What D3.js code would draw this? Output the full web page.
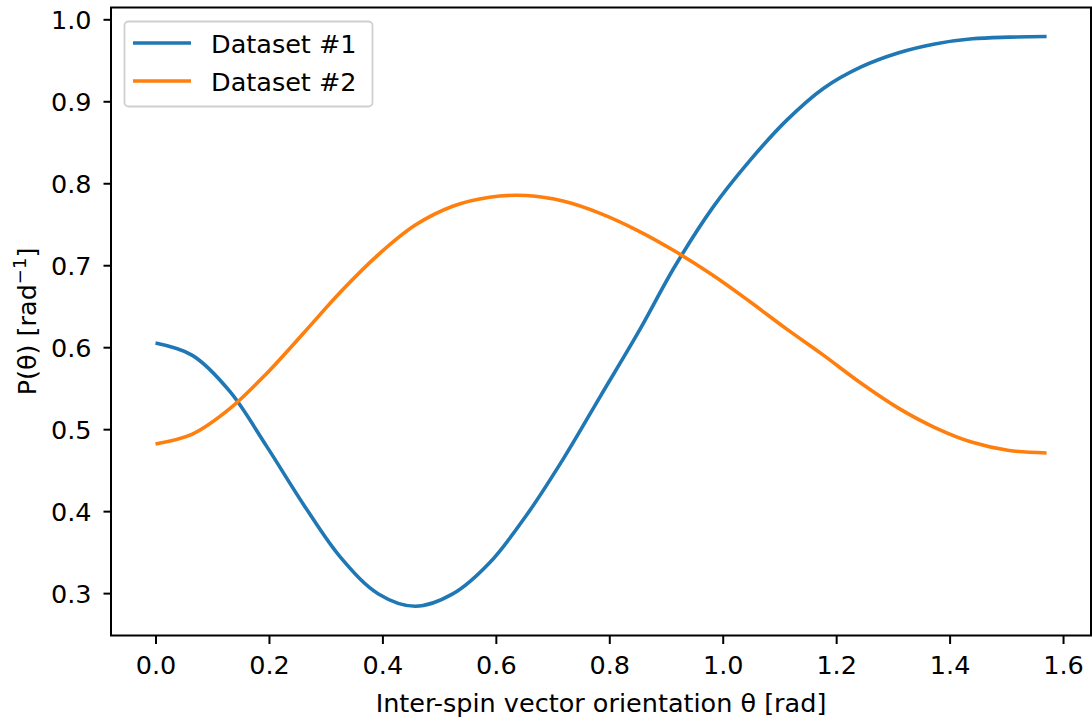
<!DOCTYPE html>
<html>
<head>
<meta charset="utf-8">
<script src="https://cdn.jsdelivr.net/npm/d3@7"></script>
<style>
  html, body { margin: 0; padding: 0; background: #fff; }
  svg { display: block; }
  text { font-family: "DejaVu Sans", sans-serif; fill: #000; }
</style>
</head>
<body>
<svg id="chart" width="1092" height="722"></svg>
<script>
const theta = [0.000, 0.065, 0.131, 0.196, 0.262, 0.327, 0.393, 0.458, 0.524, 0.589, 0.654, 0.720, 0.785, 0.851, 0.916, 0.982, 1.047, 1.113, 1.178, 1.244, 1.309, 1.374, 1.440, 1.505, 1.571];
const dataset1 = [0.605, 0.590, 0.546, 0.479, 0.407, 0.343, 0.299, 0.284, 0.299, 0.337, 0.395, 0.465, 0.541, 0.618, 0.699, 0.770, 0.827, 0.877, 0.916, 0.942, 0.959, 0.970, 0.9762, 0.9782, 0.979];
const dataset2 = [0.482, 0.494, 0.525, 0.568, 0.618, 0.668, 0.713, 0.749, 0.772, 0.783, 0.785, 0.778, 0.763, 0.742, 0.717, 0.688, 0.656, 0.622, 0.590, 0.556, 0.526, 0.502, 0.484, 0.474, 0.471];
const seriesNames = ["Dataset #1", "Dataset #2"];
const seriesColors = ["#1f77b4", "#ff7f0e"];
const xTicks = [0.0, 0.2, 0.4, 0.6, 0.8, 1.0, 1.2, 1.4, 1.6];
const yTicks = [0.3, 0.4, 0.5, 0.6, 0.7, 0.8, 0.9, 1.0];

(function () {
const svg = d3.select("#chart");
const mLeft = 111, mRight = 1091, mTop = 7.5, mBottom = 635.5;
const FS = 25.5;

const x = d3.scaleLinear().domain([-0.0785, 1.6493]).range([mLeft, mRight]);
const y = d3.scaleLinear().domain([0.2483, 1.0144]).range([mBottom, mTop]);

const series = [dataset1, dataset2];
const line = d3.line()
  .x((d, i) => x(theta[i]))
  .y(d => y(d))
  .curve(d3.curveCatmullRom.alpha(0.5));

const plot = svg.append("g");
series.forEach((s, k) => {
  plot.append("path")
    .datum(s)
    .attr("fill", "none")
    .attr("stroke", seriesColors[k])
    .attr("stroke-width", 3.6)
    .attr("stroke-linecap", "butt")
    .attr("stroke-linejoin", "round")
    .attr("d", line);
});

const xAxis = d3.axisBottom(x).tickValues(xTicks).tickFormat(d3.format(".1f")).tickSizeOuter(0).tickSize(8.5);
const yAxis = d3.axisLeft(y).tickValues(yTicks).tickFormat(d3.format(".1f")).tickSizeOuter(0).tickSize(7.5).tickPadding(12);

const gx = svg.append("g").attr("transform", `translate(0,${mBottom})`).call(xAxis);
const gy = svg.append("g").attr("transform", `translate(${mLeft},0)`).call(yAxis);
[gx, gy].forEach(g => {
  g.select(".domain").remove();
  g.selectAll(".tick line").attr("stroke", "#000").attr("stroke-width", 2);
  g.selectAll(".tick text").attr("font-size", FS).attr("font-family", "DejaVu Sans").attr("fill", "#000");
});
gx.selectAll(".tick text").attr("dy", 0).attr("y", 38.5);
gy.selectAll(".tick text").attr("dy", "0.36em");

svg.append("rect")
  .attr("x", mLeft).attr("y", mTop)
  .attr("width", mRight - mLeft).attr("height", mBottom - mTop)
  .attr("fill", "none").attr("stroke", "#000").attr("stroke-width", 2);

svg.append("text")
  .attr("x", (mLeft + mRight) / 2).attr("y", 711.5)
  .attr("text-anchor", "middle").attr("font-size", FS)
  .text("Inter-spin vector orientation θ [rad]");

const yl = svg.append("text")
  .attr("transform", `translate(36,${(mTop + mBottom) / 2}) rotate(-90)`)
  .attr("text-anchor", "middle").attr("font-size", FS);
yl.append("tspan").text("P(θ) [rad");
yl.append("tspan").attr("font-size", 18).attr("dy", -10).text("−1");
yl.append("tspan").attr("dy", 10).text("]");

const lg = svg.append("g");
lg.append("rect")
  .attr("x", 124.5).attr("y", 21.5).attr("width", 248).attr("height", 85)
  .attr("rx", 4).attr("ry", 4)
  .attr("fill", "rgba(255,255,255,0.8)").attr("stroke", "#d0d0d0").attr("stroke-width", 1.8);
seriesNames.forEach((name, k) => {
  const yy = 43 + k * 38;
  lg.append("line")
    .attr("x1", 133).attr("x2", 191).attr("y1", yy).attr("y2", yy)
    .attr("stroke", seriesColors[k]).attr("stroke-width", 3.6);
  lg.append("text")
    .attr("x", 211).attr("y", yy + 10)
    .attr("font-size", FS).text(name);
});
})();
</script>
</body>
</html>
